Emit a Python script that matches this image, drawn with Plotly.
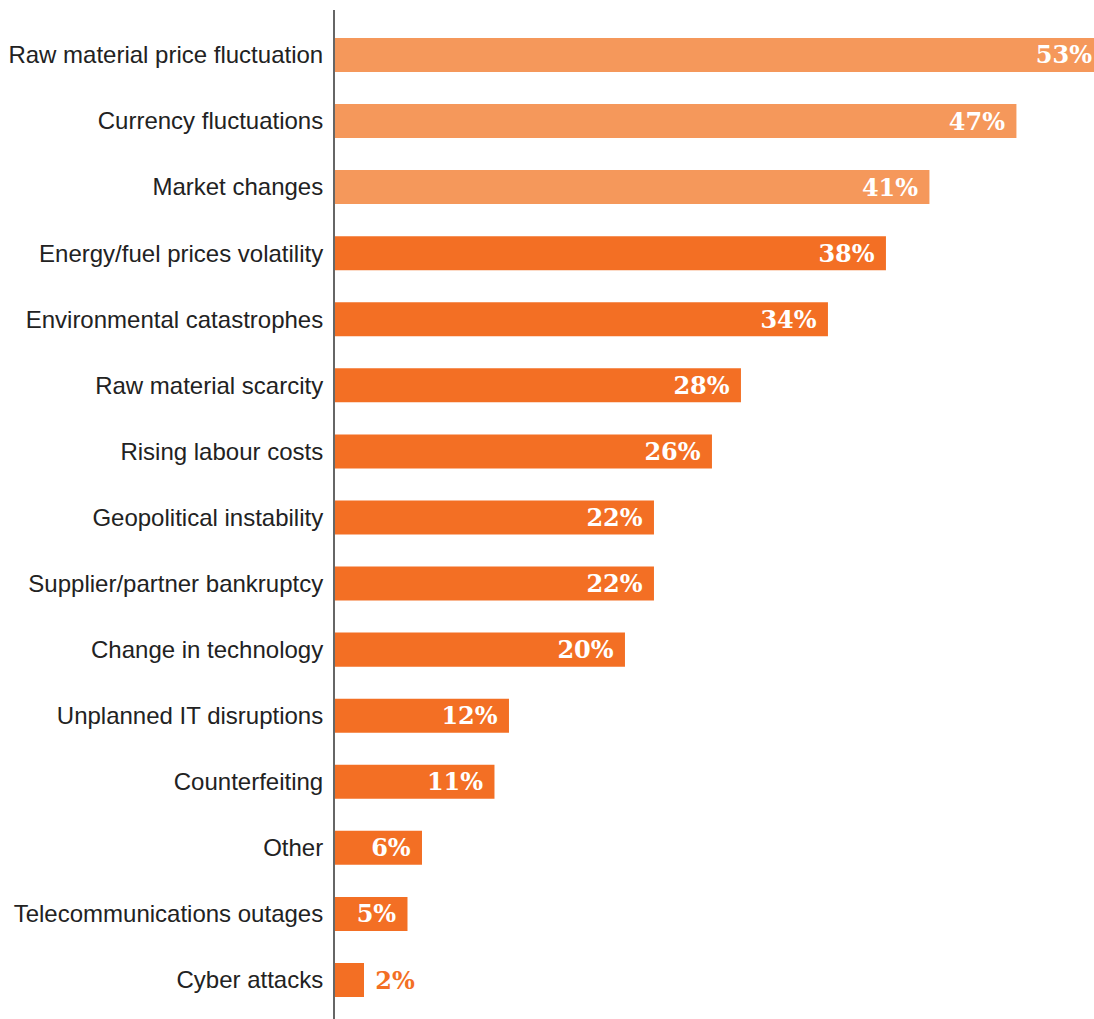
import plotly.graph_objects as go

categories = [
    "Raw material price fluctuation", "Currency fluctuations", "Market changes",
    "Energy/fuel prices volatility", "Environmental catastrophes", "Raw material scarcity",
    "Rising labour costs", "Geopolitical instability", "Supplier/partner bankruptcy",
    "Change in technology", "Unplanned IT disruptions", "Counterfeiting", "Other",
    "Telecommunications outages", "Cyber attacks",
]
values = [53, 47, 41, 38, 34, 28, 26, 22, 22, 20, 12, 11, 6, 5, 2]

LIGHT = "#F5985B"
DARK = "#F36F24"
colors = [LIGHT if i < 3 else DARK for i in range(len(values))]

NB = "\u00a0"
inside = [v >= 4 for v in values]
texts = [f"{v}%{NB}" if ins else f"{NB}{v}%" for v, ins in zip(values, inside)]
positions = ["inside" if ins else "outside" for ins in inside]

label_font = dict(family="DejaVu Serif", size=24, weight="bold")

fig = go.Figure(go.Bar(
    x=values, y=categories, orientation="h",
    marker=dict(color=colors, line=dict(width=0)),
    width=0.515, hoverinfo="skip",
    text=texts, textposition=positions, insidetextanchor="end",
    insidetextfont=dict(color="white", **label_font),
    outsidetextfont=dict(color=DARK, **label_font),
    constraintext="none", cliponaxis=True,
))

fig.update_layout(
    width=1094, height=1019,
    margin=dict(l=335, r=0, t=10, b=0),
    paper_bgcolor="white", plot_bgcolor="white",
    showlegend=False,
    xaxis=dict(range=[0, 52.35], visible=False, fixedrange=True),
    yaxis=dict(
        range=[14.59, -0.68], showgrid=False, zeroline=False,
        showline=True, linecolor="#666666", linewidth=2,
        ticks="", ticklabelstandoff=5, fixedrange=True,
        tickfont=dict(family="Liberation Sans", size=24, color="#222222"),
    ),
)

fig.write_html("out.html", config={"displayModeBar": False},
               post_script="document.body.style.margin='0';")
